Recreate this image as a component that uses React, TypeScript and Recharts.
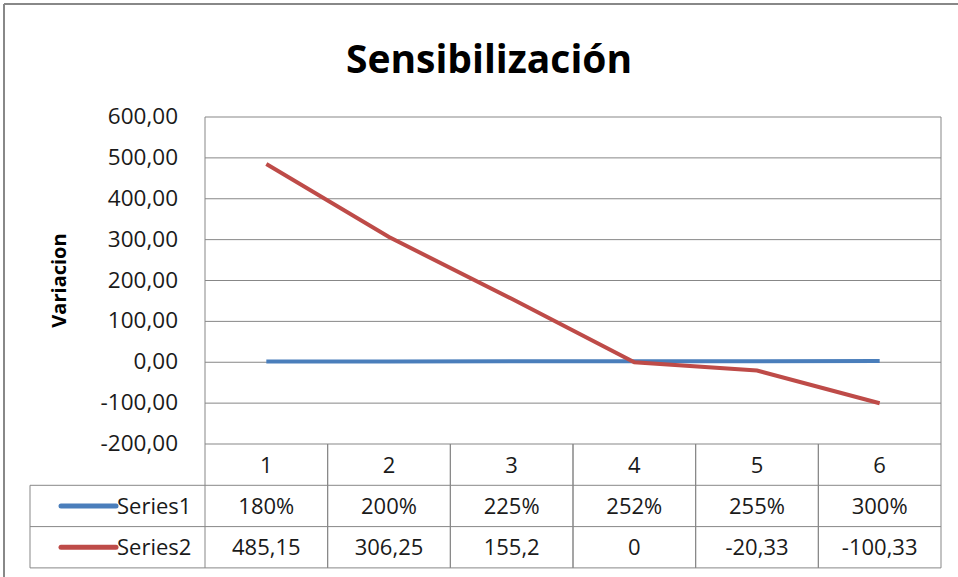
import { LineChart, Line, XAxis, YAxis, CartesianGrid } from "recharts";

// ─── Data ─────────────────────────────────────────────────────────────────────
const categories = ["1", "2", "3", "4", "5", "6"];
const series1 = [1.8, 2, 2.25, 2.52, 2.55, 3];
const series2 = [485.15, 306.25, 155.2, 0, -20.33, -100.33];
const yTicks = [-200, -100, 0, 100, 200, 300, 400, 500, 600];

const data = categories.map((cat, i) => ({ cat, s1: series1[i], s2: series2[i] }));

// ─── Layout ───────────────────────────────────────────────────────────────────
const W = 958;
const H = 577;
const PLOT_LEFT = 205;
const PLOT_RIGHT = 941;
const PLOT_TOP = 117;
const PLOT_BOTTOM = 444;
const ROW_H = 41.3;
const TABLE_BOTTOM = PLOT_BOTTOM + ROW_H * 3;
const COL_W = (PLOT_RIGHT - PLOT_LEFT) / categories.length;
const LEGEND_LEFT = 30;

const FONT = "'Open Sans', 'Noto Sans', sans-serif";
const GRID = "#878787";
const BLUE = "#4A7EBB";
const RED = "#BE4B48";
const TEXT = "#1a1a1a";

const fmtComma = (v: number) => String(v).replace(".", ",");
const fmtTick = (v: number) => v.toFixed(2).replace(".", ",");
const fmtPct = (v: number) => `${Math.round(v * 100)}%`;

function YTick({ x, y, payload }: any) {
  return (
    <text x={x} y={y} dy={7} textAnchor="end" fontSize={22.5} fill={TEXT} fontFamily={FONT}>
      {fmtTick(payload.value)}
    </text>
  );
}

// each category tick draws its column of the data table
function TableTick({ x, payload, index }: any) {
  const i = index ?? categories.indexOf(payload.value);
  const rows = [payload.value, fmtPct(series1[i]), fmtComma(series2[i])];
  return (
    <g>
      {rows.map((t, r) => (
        <text
          key={r}
          x={x}
          y={PLOT_BOTTOM + ROW_H * r + ROW_H / 2}
          dy={8}
          textAnchor="middle"
          fontSize={22}
          fill={TEXT}
          fontFamily={FONT}
        >
          {t}
        </text>
      ))}
      <line x1={x - COL_W / 2} x2={x - COL_W / 2} y1={PLOT_BOTTOM} y2={TABLE_BOTTOM} stroke={GRID} />
      <line x1={x + COL_W / 2} x2={x + COL_W / 2} y1={PLOT_BOTTOM} y2={TABLE_BOTTOM} stroke={GRID} />
    </g>
  );
}

function Chrome() {
  const legend = [
    { name: "Series1", color: BLUE },
    { name: "Series2", color: RED },
  ];
  return (
    <svg width={W} height={H} style={{ position: "absolute", left: 0, top: 0, pointerEvents: "none" }}>
      <line x1={4} x2={4} y1={4} y2={H} stroke="#888" strokeWidth={2} />
      <line x1={4} x2={W} y1={4} y2={4} stroke="#888" strokeWidth={2} />
      <text x={489} y={73} textAnchor="middle" fontSize={39} fontWeight={700} fill="#000" fontFamily={FONT}>
        Sensibilización
      </text>
      <text
        transform={`translate(66, ${(PLOT_TOP + PLOT_BOTTOM) / 2}) rotate(-90)`}
        textAnchor="middle"
        fontSize={20}
        fontWeight={700}
        fill="#000"
        fontFamily={FONT}
      >
        Variacion
      </text>
      <line x1={PLOT_LEFT} x2={PLOT_LEFT} y1={PLOT_TOP} y2={PLOT_BOTTOM} stroke={GRID} />
      <line x1={PLOT_RIGHT} x2={PLOT_RIGHT} y1={PLOT_TOP} y2={PLOT_BOTTOM} stroke={GRID} />
      {[1, 2, 3].map((r) => (
        <line
          key={r}
          x1={LEGEND_LEFT}
          x2={PLOT_RIGHT}
          y1={PLOT_BOTTOM + ROW_H * r}
          y2={PLOT_BOTTOM + ROW_H * r}
          stroke={GRID}
        />
      ))}
      <line x1={LEGEND_LEFT} x2={LEGEND_LEFT} y1={PLOT_BOTTOM + ROW_H} y2={TABLE_BOTTOM} stroke={GRID} />
      {legend.map((l, r) => {
        const cy = PLOT_BOTTOM + ROW_H * (r + 1) + ROW_H / 2;
        return (
          <g key={l.name}>
            <line x1={61} x2={116} y1={cy} y2={cy} stroke={l.color} strokeWidth={5} strokeLinecap="round" />
            <text x={117} y={cy} dy={8} fontSize={22} fill={TEXT} fontFamily={FONT}>
              {l.name}
            </text>
          </g>
        );
      })}
    </svg>
  );
}

export default function App() {
  return (
    <div style={{ position: "absolute", left: 0, top: 0, width: W, height: H, background: "#fff" }}>
      <LineChart
        width={W}
        height={H}
        data={data}
        margin={{ top: PLOT_TOP, right: W - PLOT_RIGHT, bottom: 9, left: 0 }}
      >
        <CartesianGrid vertical={false} stroke={GRID} />
        <XAxis
          dataKey="cat"
          height={H - 9 - PLOT_BOTTOM}
          padding={{ left: COL_W / 2, right: COL_W / 2 }}
          axisLine={false}
          tickLine={false}
          tickSize={0}
          interval={0}
          tick={<TableTick />}
        />
        <YAxis
          width={PLOT_LEFT}
          domain={[-200, 600]}
          ticks={yTicks}
          axisLine={false}
          tickLine={false}
          tickSize={0}
          tickMargin={27}
          interval={0}
          tick={<YTick />}
        />
        <Line dataKey="s1" stroke={BLUE} strokeWidth={4} dot={false} isAnimationActive={false} />
        <Line dataKey="s2" stroke={RED} strokeWidth={4} dot={false} isAnimationActive={false} />
      </LineChart>
      <Chrome />
    </div>
  );
}
